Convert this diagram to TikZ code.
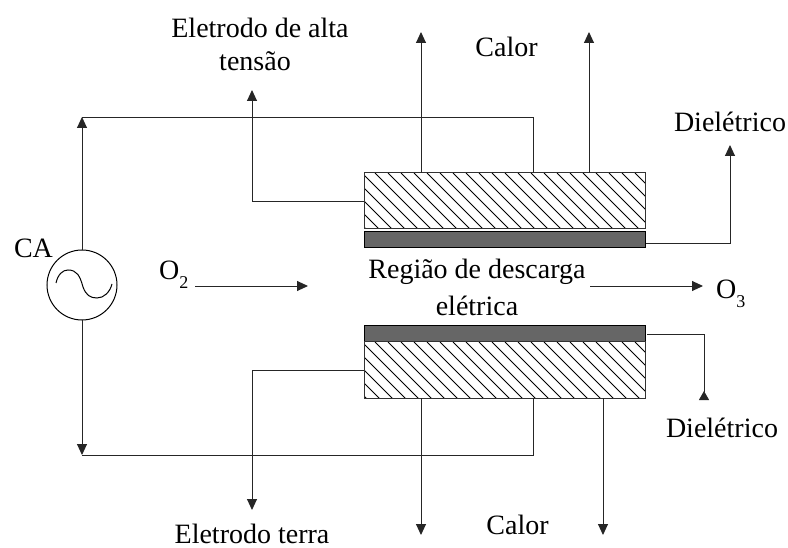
\documentclass[tikz,border=0pt]{standalone}
\usepackage{fontspec}
\setmainfont{Liberation Serif}
\usetikzlibrary{arrows.meta}
\newcommand{\labelsize}{\fontsize{28}{34}\selectfont}
\tikzset{
  wire/.style={line width=0.95pt,draw=black!85},
  arr/.style={wire,-{Triangle[length=11pt,width=10pt]}},
  lbl/.style={inner sep=0pt,font=\labelsize,align=center,text=black},
  hatchbox/.style={draw=black!80,line width=1pt,fill=white,minimum width=281.5pt,minimum height=56pt,inner sep=0pt,outer sep=0pt,
    path picture={
      \foreach \k in {-80,-67,...,340}{
        \draw[line width=0.95pt,black] ([xshift=\k pt]path picture bounding box.north west) -- ++(70pt,-70pt);
      }
    }},
  darkbox/.style={draw=black,line width=1pt,fill=black!60,minimum width=281.5pt,minimum height=16pt,inner sep=0pt,outer sep=0pt},
  source/.style={circle,draw=black,line width=1pt,minimum size=70pt,inner sep=0pt,outer sep=0pt}
}
\begin{document}
\begin{tikzpicture}[x=1pt,y=-1pt]
\useasboundingbox (0,0) rectangle (788,548);
\node[hatchbox] (up) at (504.75,201) {};
\node[darkbox] (dup) at (504.75,240) {};
\node[darkbox] (dlo) at (504.75,333.5) {};
\node[hatchbox] (lo) at (504.75,370) {};
\node[source] (ca) at (82,285) {};
\draw[line width=1pt,black] (56,283) .. controls (58,274) and (63,270) .. (68,270) .. controls (77,270) and (80,276) .. (83,287) .. controls (86,295) and (90,298) .. (97,298) .. controls (104,298) and (110,292) .. (112,284);

\coordinate (tl) at (82,117);
\coordinate (tr) at (533,117);
\coordinate (bl) at (82,455);
\coordinate (br) at (533,455);
\coordinate (ue) at (252,90);
\coordinate (ge) at (252,510);
\coordinate (h1) at (421,32);
\coordinate (h2) at (589,32);
\coordinate (h3) at (421,535);
\coordinate (h4) at (603,535);
\coordinate (d1) at (730,145);
\coordinate (d2) at (704,400);
\coordinate (o2s) at (195,286);
\coordinate (o2e) at (308,286);
\coordinate (o3s) at (590,286);
\coordinate (o3e) at (703,286);

\draw[arr] (ca.north) -- (tl);
\draw[wire] (tl) -- (tr) -- (tr |- up.north);
\draw[arr] (ca.south) -- (bl);
\draw[wire] (bl) -- (br) -- (br |- lo.south);
\draw[arr] (up.west) -- (up.west -| ue) -- (ue);
\draw[arr] (lo.west) -- (lo.west -| ge) -- (ge);
\draw[arr] (h1 |- up.north) -- (h1);
\draw[arr] (h2 |- up.north) -- (h2);
\draw[arr] (h3 |- lo.south) -- (h3);
\draw[arr] (h4 |- lo.south) -- (h4);
\draw[arr] (dup.east) ++(0,3) -- (730,243) -- (d1);
\draw[wire,-{Triangle[length=9pt,width=10pt,reversed]}] (647,334) -- (704,334) -- (d2);
\draw[arr] (o2s) -- (o2e);
\draw[arr] (o3s) -- (o3e);

\node[lbl] (tca) at (33.5,248) {CA};
\node[lbl,anchor=west] (to2) at (159,275) {O\raisebox{-0.32em}{\fontsize{18}{20}\selectfont 2}};
\node[lbl,anchor=west] (to3) at (716,294) {O\raisebox{-0.32em}{\fontsize{18}{20}\selectfont 3}};
\node[lbl] (tr1) at (477,272) {Região de descarga};
\node[lbl] (tr2) at (477,306) {elétrica};
\node[lbl] (tc1) at (506.5,47) {Calor};
\node[lbl] (tc2) at (517.5,525) {Calor};
\node[lbl] (te1) at (260,28) {Eletrodo de alta};
\node[lbl] (te2) at (255,61) {tensão};
\node[lbl] (te3) at (252,534) {Eletrodo terra};
\node[lbl] (td1) at (730,122) {Dielétrico};
\node[lbl] (td2) at (722,428) {Dielétrico};
\end{tikzpicture}
\end{document}
